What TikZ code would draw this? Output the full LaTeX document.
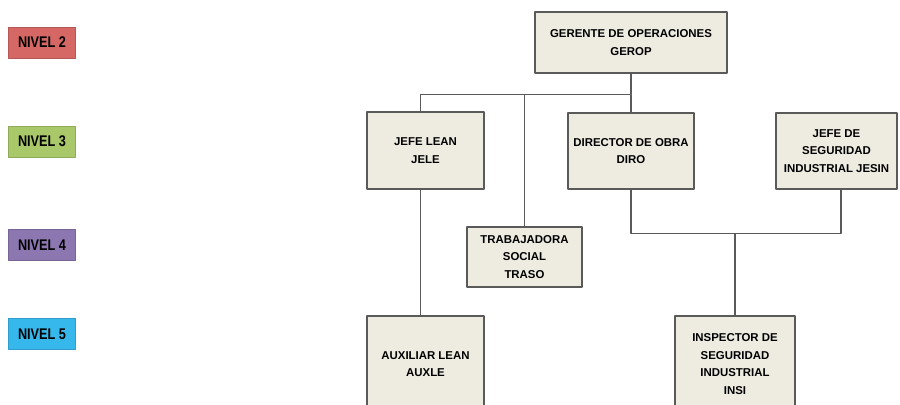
\documentclass[tikz,border=0pt]{standalone}
\usepackage{fontspec}
\setmainfont{Liberation Sans}
\newfontfamily\narrowfont[FakeStretch=0.82]{Liberation Sans}
\definecolor{boxfill}{RGB}{238,236,225}
\definecolor{edge}{RGB}{90,90,90}
\definecolor{niv2}{RGB}{213,104,101}
\definecolor{niv3}{RGB}{168,200,106}
\definecolor{niv4}{RGB}{141,119,177}
\definecolor{niv5}{RGB}{55,184,236}
\begin{document}
\begin{tikzpicture}[x=0.02cm, y=-0.02cm, line join=round, font=\fontsize{6.5}{10}\selectfont\bfseries,
  cargo/.style={draw=edge, fill=boxfill, line width=0.9pt, align=center, inner sep=1pt},
  nivel/.style={fill=#1, draw=#1!85!black, line width=0.4pt, minimum width=1.34cm, minimum height=0.62cm, inner sep=0pt, font=\narrowfont\fontsize{8.8}{10}\selectfont\bfseries},
  link/.style={draw=edge, line width=0.8pt}]
\useasboundingbox (0,0) rectangle (900,405);
\clip (0,0) rectangle (900,405);
% niveles
\foreach \n/\y/\c in {2/42.5/niv2,3/141.5/niv3,4/245/niv4,5/334/niv5} \node[nivel=\c] (niv\n) at (42,\y) {NIVEL \n};
% cargos
\node[cargo, minimum width=3.84cm, minimum height=1.22cm] (gerop) at (631,42.5) {GERENTE DE OPERACIONES\\GEROP};
\node[cargo, minimum width=2.34cm, minimum height=1.54cm] (jele) at (425.5,150.5) {JEFE LEAN\\JELE};
\node[cargo, minimum width=2.52cm, minimum height=1.52cm] (diro) at (631,151) {DIRECTOR DE OBRA\\DIRO};
\node[cargo, minimum width=2.42cm, minimum height=1.52cm] (jesin) at (836.5,151) {JEFE DE\\SEGURIDAD\\INDUSTRIAL JESIN};
\node[cargo, minimum width=2.3cm, minimum height=1.2cm] (traso) at (524.5,257) {TRABAJADORA\\SOCIAL\\TRASO};
\node[cargo, minimum width=2.34cm, minimum height=1.92cm] (auxle) at (425.5,364) {AUXILIAR LEAN\\AUXLE};
\node[cargo, minimum width=2.4cm, minimum height=1.92cm] (insi) at (735,364) {INSPECTOR DE\\SEGURIDAD\\INDUSTRIAL\\INSI};
% lineas
\draw[link] (gerop.south) -- ++(0,21) coordinate (bus) -| ([xshift=-0.1cm]jele.north);
\draw[link] (bus -| traso.north) -- (traso.north);
\draw[link] (bus) -- (diro.north);
\draw[link] ([xshift=-0.1cm]jele.south) -- ([xshift=-0.1cm]auxle.north);
\draw[link] (diro.south) -- ++(0,44) coordinate (bus2) -| ([xshift=0.09cm]jesin.south);
\draw[link] (bus2 -| insi.north) -- (insi.north);
\end{tikzpicture}
\end{document}
